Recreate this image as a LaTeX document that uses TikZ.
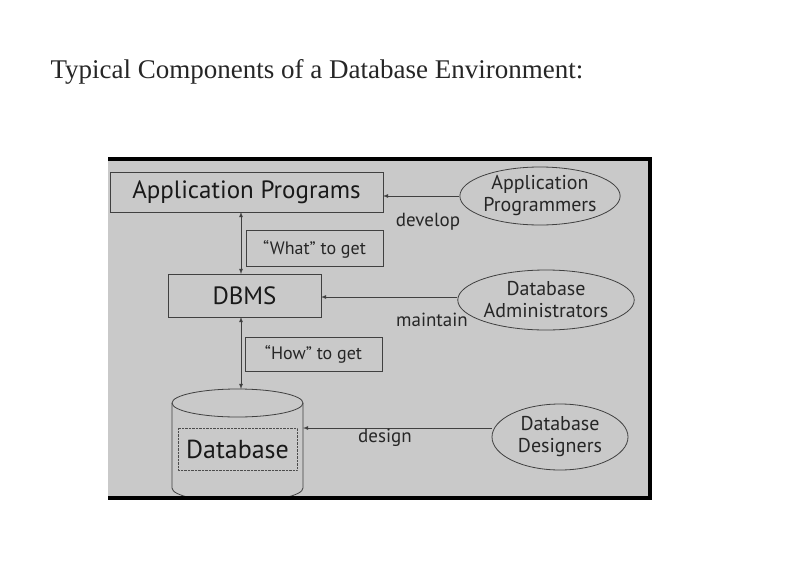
\documentclass[tikz,border=0pt]{standalone}
\usepackage{fontspec}
\setmainfont{Liberation Serif}
\newfontfamily\diagfont{PT Sans}
\usetikzlibrary{shapes.geometric}
\definecolor{panelgray}{HTML}{C9C9C9}
\tikzset{
	compbox/.style={draw=black!75, thick, inner sep=0pt},
	bigtxt/.style={font=\diagfont\fontsize{25}{25}\selectfont, text=black!90},
	roleell/.style={draw=black!75, thick, ellipse, inner sep=0pt, align=center, font=\diagfont\fontsize{20}{22}\selectfont, text=black!85},
	lbl/.style={font=\diagfont\fontsize{19}{19}\selectfont, text=black!85},
	link/.style={black!75, thick, -latex}
}
\begin{document}
\begin{tikzpicture}[x=1pt, y=-1pt]
	\useasboundingbox (0,0) rectangle (792,562);
	% title
	\node[anchor=west, font=\fontsize{27}{27}\selectfont, text=black!85] (title) at (47,72) {Typical Components of a Database Environment:};
	% panel
	\fill[panelgray] (108,157) rectangle (652,500);
	% boxes
	\draw[compbox] (110,172) rectangle (383,212);
	\node[bigtxt] (app) at (246.5,192) {Application Programs};
	\coordinate (appE) at (383,196);
	\coordinate (appS) at (241,212);
	\draw[compbox] (246,230) rectangle (383,266);
	\node[lbl, font=\diagfont\fontsize{18}{18}\selectfont] (what) at (314.5,249) {“What” to get};
	\draw[compbox] (168,274) rectangle (321,317);
	\node[bigtxt] (dbms) at (244.5,296) {DBMS};
	\coordinate (dbmsN) at (241,274);
	\coordinate (dbmsS) at (241,317);
	\coordinate (dbmsE) at (321,297);
	\draw[compbox] (245,337) rectangle (382,371);
	\node[lbl, font=\diagfont\fontsize{18}{18}\selectfont] (how) at (313.5,354) {“How” to get};
	% database cylinder
	\begin{scope}
		\clip (108,157) rectangle (652,498);
		\draw[compbox, fill=panelgray] (172,403) -- (172,488) arc[start angle=180, end angle=0, x radius=65.5, y radius=14] -- (303,403);
	\end{scope}
	\draw[compbox] (237.5,403) ellipse[x radius=65.5, y radius=14];
	\draw[black!70, densely dotted] (178,428) rectangle (297,470);
	\node[bigtxt, font=\diagfont\fontsize{26}{26}\selectfont] (db) at (237.5,449) {Database};
	\coordinate (dbN) at (241,389);
	\coordinate (dbE) at (303,428);
	\draw[line width=4pt] (108,159) -- (650,159) -- (650,498) -- (108,498);
	% roles
	\node[roleell, minimum width=156pt, minimum height=58pt] (aprog) at (540,196) {Application\\Programmers};
	\node[roleell, minimum width=154pt, minimum height=60pt] (dba) at (546,300) {Database\\Administrators};
	\node[roleell, minimum width=136pt, minimum height=66pt] (dd) at (560,437) {Database\\Designers};
	% connectors
	\draw[black!75, thick, latex-latex] (appS) -- (dbmsN);
	\draw[black!75, thick, latex-latex] (dbmsS) -- (dbN);
	\draw[link] (aprog.west |- appE) -- (appE);
	\draw[link] (dba.west |- dbmsE) -- (dbmsE);
	\draw[link] (dd.west |- dbE) -- (dbE);
	\node[lbl] (develop) at (428,222) {develop};
	\node[lbl] (maintain) at (432,320) {maintain};
	\node[lbl] (design) at (385,438) {design};
\end{tikzpicture}
\end{document}
